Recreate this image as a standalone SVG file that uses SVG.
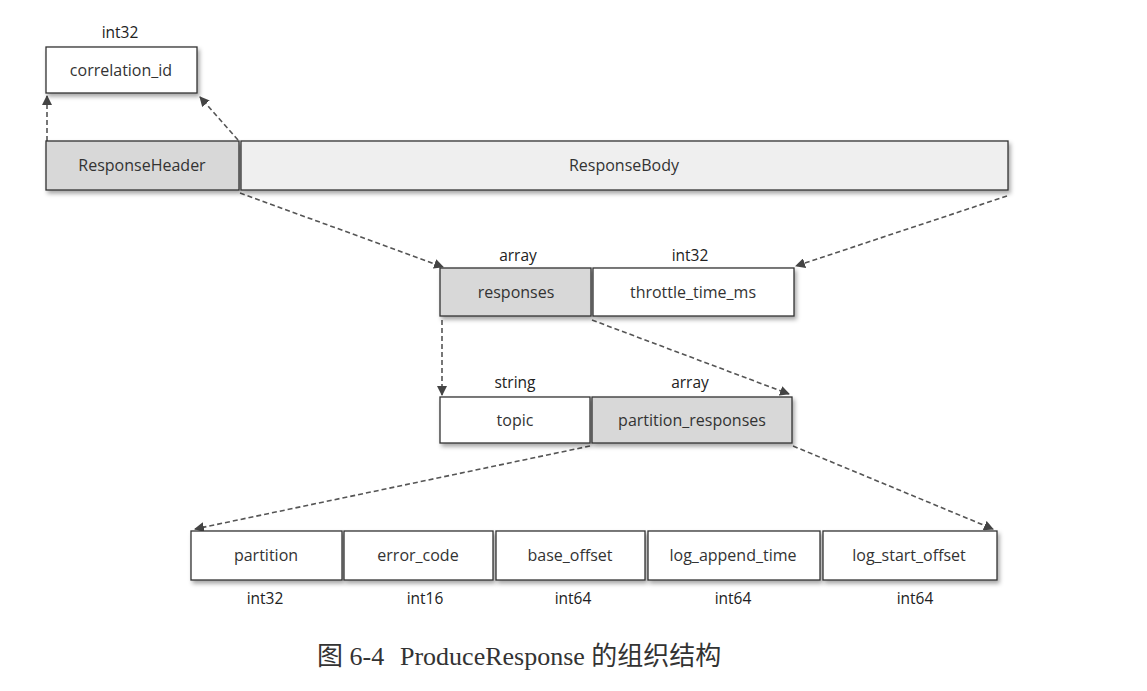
<svg xmlns="http://www.w3.org/2000/svg" width="1147" height="691" viewBox="0 0 1147 691">
<defs>
<filter id="sh" x="-5%" y="-10%" width="115%" height="140%">
<feDropShadow dx="2" dy="3" stdDeviation="2" flood-color="#000" flood-opacity="0.35"/>
</filter>
<marker id="ah" viewBox="0 0 10 10" refX="9" refY="5" markerWidth="10" markerHeight="10" markerUnits="userSpaceOnUse" orient="auto">
<path d="M0,0 L10,5 L0,10 z" fill="#444"/>
</marker>
<style>
.box{stroke:#333;stroke-width:1.3;filter:url(#sh)}
.w{fill:#ffffff}
.g{fill:#d8d8d8}
.lg{fill:#efefef}
.t{font-family:"Open Sans","Liberation Sans",sans-serif;font-size:16px;fill:#333;text-anchor:middle}
.ty{font-family:"Open Sans","Liberation Sans",sans-serif;font-size:15.5px;fill:#222;text-anchor:middle}
.c{stroke:#555;stroke-width:1.6;stroke-dasharray:5,3;fill:none;marker-end:url(#ah)}
.cap{font-family:"Liberation Serif","Noto Sans CJK SC",serif;font-size:26px;fill:#333}
</style>
</defs>
<rect width="1147" height="691" fill="#ffffff"/>

<g id="connectors">
<line class="c" x1="47" y1="141" x2="47" y2="96"/>
<line class="c" x1="238" y1="140" x2="200" y2="97"/>
<line class="c" x1="240" y1="193" x2="443" y2="267"/>
<line class="c" x1="1007" y1="196" x2="796" y2="266"/>
<line class="c" x1="442" y1="320" x2="442" y2="395"/>
<line class="c" x1="592" y1="320" x2="789" y2="394"/>
<line class="c" x1="590" y1="446" x2="195" y2="529"/>
<line class="c" x1="793" y1="446" x2="993" y2="529"/>
</g>

<g id="correlation_id">
<rect class="box w" x="46" y="47" width="151" height="46"/>
<text class="ty" x="120" y="38">int32</text>
<text class="t" x="121" y="76">correlation_id</text>
</g>

<g id="ResponseHeader">
<rect class="box g" x="46" y="141" width="193" height="49"/>
<text class="t" x="142" y="171">ResponseHeader</text>
</g>

<g id="ResponseBody">
<rect class="box lg" x="241" y="141" width="767" height="49"/>
<text class="t" x="624" y="171">ResponseBody</text>
</g>

<g id="responses">
<rect class="box g" x="440" y="268" width="151" height="48"/>
<text class="ty" x="518" y="261">array</text>
<text class="t" x="516" y="298">responses</text>
</g>

<g id="throttle_time_ms">
<rect class="box w" x="593" y="268" width="201" height="48"/>
<text class="ty" x="690" y="261">int32</text>
<text class="t" x="693" y="298">throttle_time_ms</text>
</g>

<g id="topic">
<rect class="box w" x="440" y="397" width="150" height="46"/>
<text class="ty" x="515" y="388">string</text>
<text class="t" x="515" y="426">topic</text>
</g>

<g id="partition_responses">
<rect class="box g" x="592" y="397" width="200" height="46"/>
<text class="ty" x="690" y="388">array</text>
<text class="t" x="692" y="426">partition_responses</text>
</g>

<g id="partition">
<rect class="box w" x="191" y="531" width="151" height="49"/>
<text class="t" x="266" y="561">partition</text>
<text class="ty" x="265" y="604">int32</text>
</g>

<g id="error_code">
<rect class="box w" x="344" y="531" width="149" height="49"/>
<text class="t" x="418" y="561">error_code</text>
<text class="ty" x="425" y="604">int16</text>
</g>

<g id="base_offset">
<rect class="box w" x="496" y="531" width="149" height="49"/>
<text class="t" x="570" y="561">base_offset</text>
<text class="ty" x="573" y="604">int64</text>
</g>

<g id="log_append_time">
<rect class="box w" x="648" y="531" width="172" height="49"/>
<text class="t" x="733" y="561">log_append_time</text>
<text class="ty" x="733" y="604">int64</text>
</g>

<g id="log_start_offset">
<rect class="box w" x="823" y="531" width="174" height="49"/>
<text class="t" x="909" y="561">log_start_offset</text>
<text class="ty" x="915" y="604">int64</text>
</g>

<g id="caption">
<text class="cap" x="317" y="665">图 6-4</text>
<text class="cap" x="400" y="665">ProduceResponse 的组织结构</text>
</g>
</svg>
